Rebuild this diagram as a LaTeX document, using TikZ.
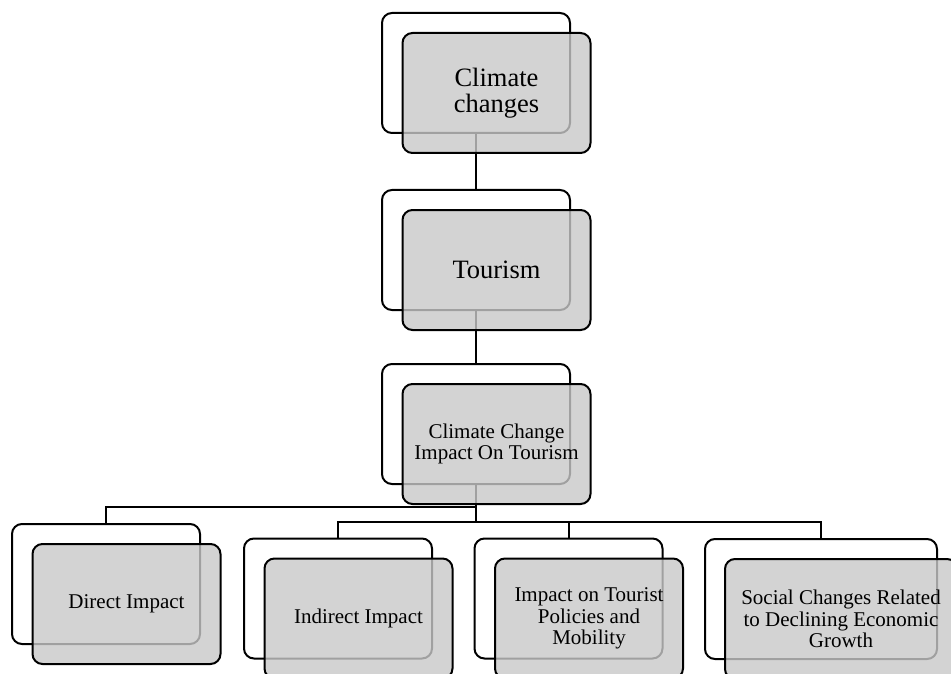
\documentclass[tikz,border=0pt]{standalone}
\usepackage{fontspec}
\setmainfont{Liberation Serif}
\begin{document}
\begin{tikzpicture}[x=1pt,y=-1pt,
  backbox/.style={draw=black, line width=2pt, rounded corners=10pt, fill=white,
    minimum width=188pt, minimum height=120pt, inner sep=0pt},
  frontbox/.style={draw=black, line width=2pt, rounded corners=10pt,
    fill={rgb,255:red,200;green,200;blue,200}, fill opacity=0.8, text opacity=1,
    minimum width=188pt, minimum height=120pt, inner sep=0pt, align=center},
  bigtext/.style={font=\fontsize{26.5}{25.5}\selectfont},
  smalltext/.style={font=\fontsize{21}{21.7}\selectfont},
  conn/.style={draw=black, line width=2pt}]
\useasboundingbox (0,0) rectangle (951,674);
% back boxes
\node[backbox] (b1) at (476,73) {};
\node[backbox] (b2) at (476,250) {};
\node[backbox] (b3) at (476,424) {};
\node[backbox] (d1) at (106,584) {};
\node[backbox] (d2) at (338,598.5) {};
\node[backbox] (d3) at (568.5,598.5) {};
\node[backbox, minimum width=232pt] (d4) at (821,599) {};
% connectors
\coordinate (busL) at (476,507);
\coordinate (busR) at (476,522);
\draw[conn] (b1.south) -- (b2.north);
\draw[conn] (b2.south) -- (b3.north);
\draw[conn] (b3.south) -- (busR);
\draw[conn] (busL) -| (d1.north);
\draw[conn] (d2.north) |- (busR) -| (d4.north);
\draw[conn] (d3.north) -- (d3.north |- busR);
% front boxes
\node[frontbox, bigtext] (f1) at (496.5,93) {Climate\\changes};
\node[frontbox, bigtext] (f2) at (496.5,270) {Tourism};
\node[frontbox, smalltext] (f3) at (496.5,444) {Climate Change\\Impact On Tourism};
\node[frontbox, smalltext] (g1) at (126.5,604) {Direct Impact};
\node[frontbox, smalltext] (g2) at (358.5,618.5) {Indirect Impact};
\node[frontbox, smalltext] (g3) at (589,618.5) {Impact on Tourist\\Policies and\\Mobility};
\node[frontbox, smalltext, minimum width=232pt] (g4) at (841,619) {Social Changes Related\\to Declining Economic\\Growth};
\end{tikzpicture}
\end{document}
